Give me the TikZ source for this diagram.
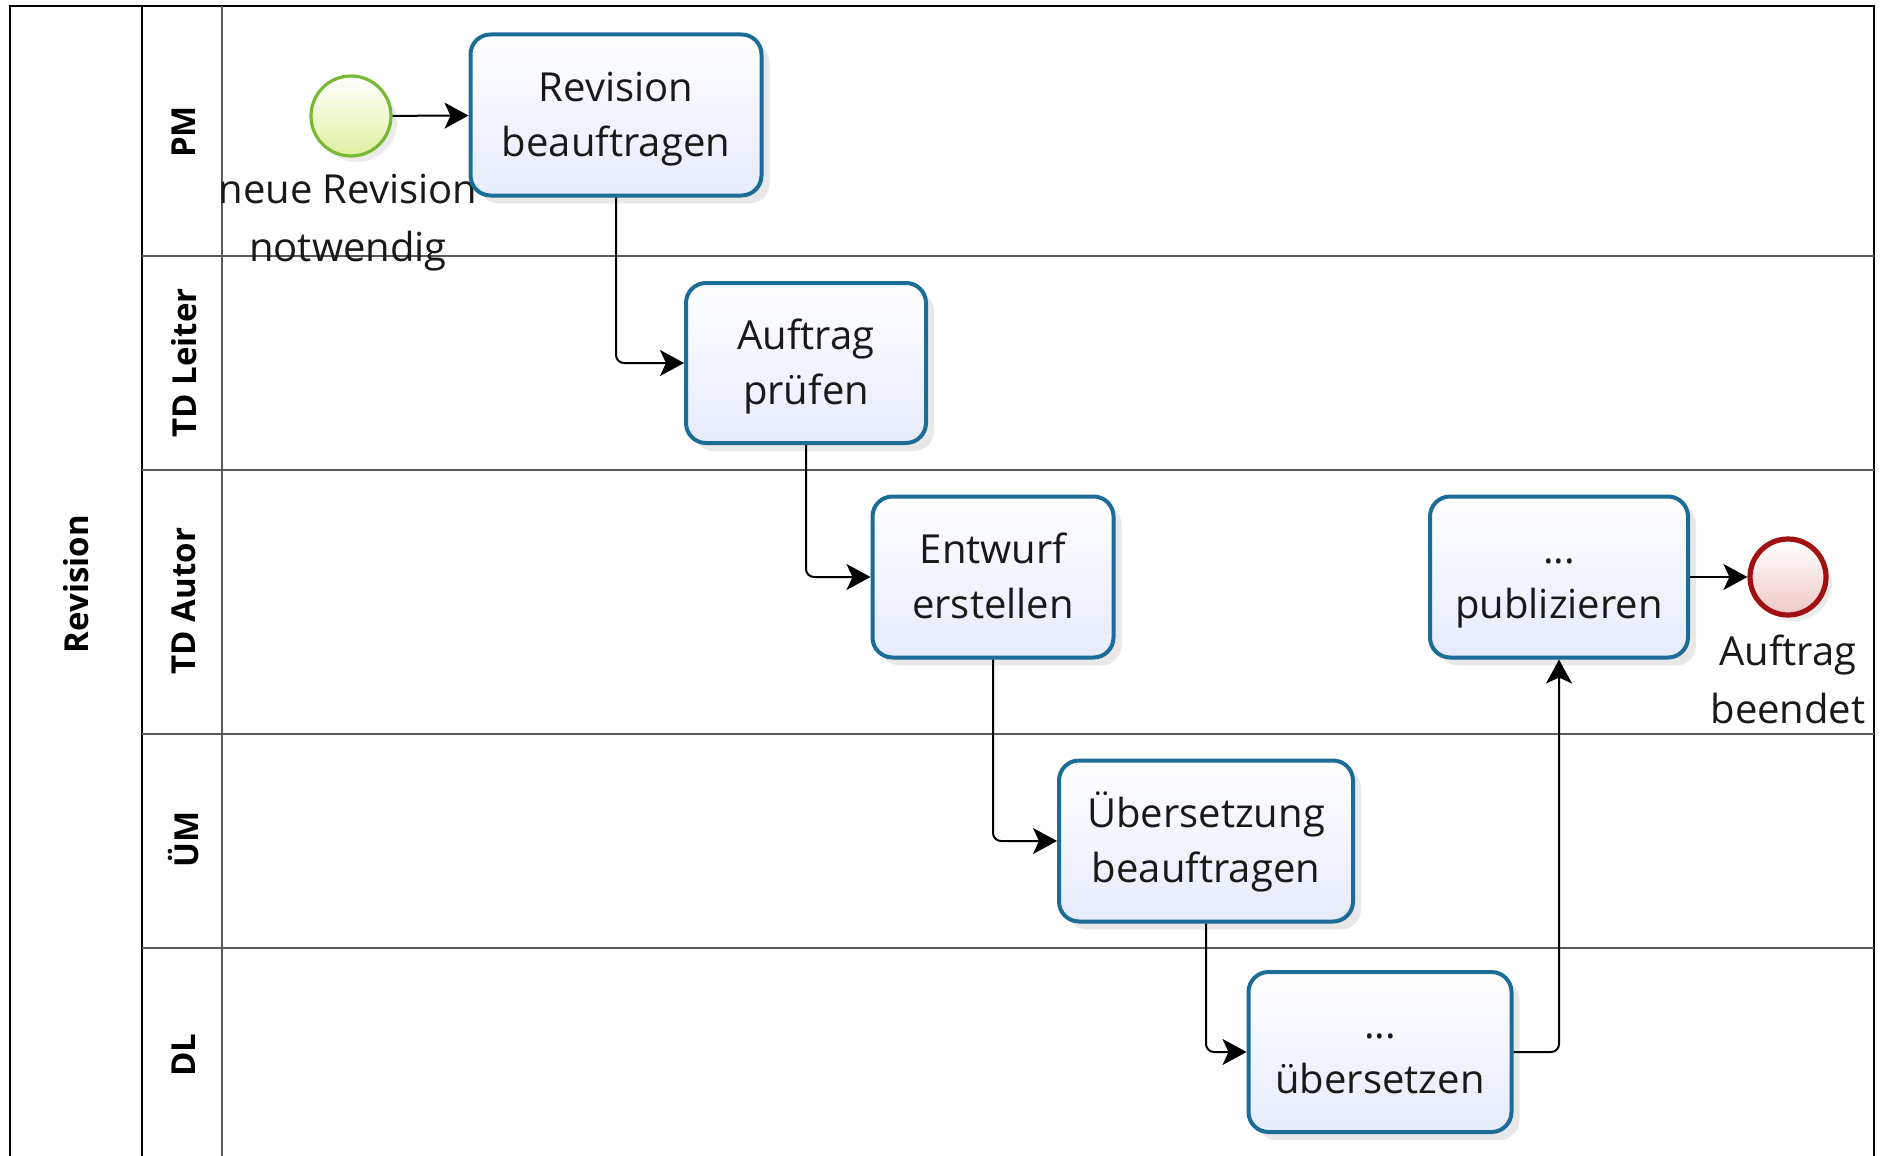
\documentclass[tikz,border=0pt]{standalone}
\usepackage{fontspec}
\setmainfont{Open Sans}
\usetikzlibrary{arrows.meta,shadows,calc}
\definecolor{taskborder}{RGB}{28,108,152}
\definecolor{taskfill}{RGB}{230,235,252}
\definecolor{textcol}{RGB}{25,25,25}
\definecolor{lanecol}{RGB}{90,90,90}
\definecolor{startborder}{RGB}{120,184,50}
\definecolor{startfill}{RGB}{222,240,160}
\definecolor{endborder}{RGB}{160,16,16}
\definecolor{endfill}{RGB}{240,200,200}
\newcommand\tskstrut{\rule[-6.7pt]{0pt}{27.2pt}}
\begin{document}
\begin{tikzpicture}[x=0.5pt,y=-0.5pt,
  task/.style={draw=taskborder, line width=2pt, rounded corners=10pt,
    top color=white, bottom color=taskfill, align=center,
    font=\fontsize{20}{27.5}\selectfont, text=textcol, inner sep=0pt,
    drop shadow={opacity=0.18, shadow xshift=4pt, shadow yshift=-4pt}},
  startev/.style={circle, draw=startborder, line width=1.6pt, minimum size=40pt,
    inner sep=0pt, top color=white, bottom color=startfill,
    drop shadow={opacity=0.15, shadow xshift=3pt, shadow yshift=-3pt}},
  endev/.style={circle, draw=endborder, line width=2.6pt, minimum size=38pt,
    inner sep=0pt, top color=white, bottom color=endfill,
    drop shadow={opacity=0.15, shadow xshift=3pt, shadow yshift=-3pt}},
  evlabel/.style={align=center, font=\fontsize{20}{29}\selectfont, text=textcol, inner sep=0pt},
  lanelabel/.style={rotate=90, font=\fontsize{16.5}{20}\selectfont\bfseries, text=black, inner sep=0pt},
  laneline/.style={draw=lanecol, line width=1pt},
  flow/.style={draw=black, line width=1pt, rounded corners=4pt,
    -{Stealth[length=12pt,width=13pt,inset=3pt]}}
]
\useasboundingbox (0,0) rectangle (1884,1156);
\fill[white] (0,0) rectangle (1884,1156);

% pool frame
\draw[black, line width=1pt] (10,1160) -- (10,6) -- (1874,6) -- (1874,1160);
\draw[black, line width=1pt] (142,6) -- (142,1160);
\draw[laneline] (222,6) -- (222,1160);
\draw[laneline] (142,256) -- (1874,256);
\draw[laneline] (142,470) -- (1874,470);
\draw[laneline] (142,734) -- (1874,734);
\draw[laneline] (142,948) -- (1874,948);

% labels
\node[lanelabel] (pool) at (76,584) {Revision};
\node[lanelabel] (lpm) at (184,132) {PM};
\node[lanelabel] (ltd) at (184,363) {TD Leiter};
\node[lanelabel] (lta) at (184,601) {TD Autor};
\node[lanelabel] (lum) at (184,839) {ÜM};
\node[lanelabel] (ldl) at (184,1055) {DL};

% events
\node[startev] (start) at (351,116) {};
\node[evlabel] (startlbl) at (348,223) {neue Revision\\notwendig};
\node[endev] (end) at (1788,577) {};
\node[evlabel] (endlbl) at (1788,679) {Auftrag\\beendet};

% tasks
\node[task, minimum width=145.5pt, minimum height=80.5pt] (t1) at (616,115) {\tskstrut Revision\\\tskstrut beauftragen};
\node[task, minimum width=120pt, minimum height=80pt] (t2) at (806,363) {\tskstrut Auftrag\\\tskstrut prüfen};
\node[task, minimum width=120.5pt, minimum height=80.5pt] (t3) at (993,577) {\tskstrut Entwurf\\\tskstrut erstellen};
\node[task, minimum width=147pt, minimum height=80.5pt] (t4) at (1206,841) {\tskstrut Übersetzung\\\tskstrut beauftragen};
\node[task, minimum width=131.5pt, minimum height=80pt] (t5) at (1380,1052) {\tskstrut ...\\\tskstrut übersetzen};
\node[task, minimum width=129pt, minimum height=80.5pt] (t6) at (1559,577) {\tskstrut ...\\\tskstrut publizieren};

% flows
\draw[flow] (start) -- (t1);
\draw[flow] (t1.south) |- (t2.west);
\draw[flow] (t2.south) |- (t3.west);
\draw[flow] (t3.south) |- (t4.west);
\draw[flow] (t4.south) |- (t5.west);
\draw[flow] (t5.east) -| (t6.south);
\draw[flow] (t6) -- (end);
\end{tikzpicture}
\end{document}
